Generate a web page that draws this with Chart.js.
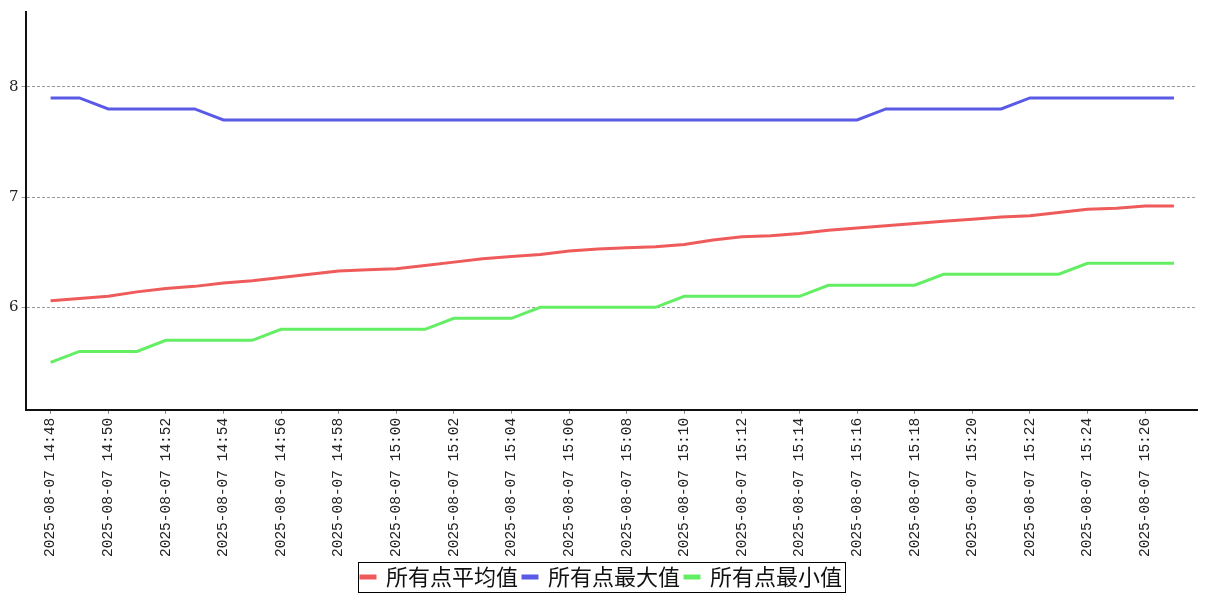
<!DOCTYPE html>
<html>
<head>
<meta charset="utf-8">
<script src="https://cdn.jsdelivr.net/npm/chart.js@4.4.0/dist/chart.umd.min.js"></script>
<style>
  html, body { margin: 0; padding: 0; background: #fff; }
  #chart { display: block; }
</style>
</head>
<body>
<canvas id="chart" width="1207" height="600"></canvas>
<script>
// one point per minute, 14:48 .. 15:27
const times = [
  '14:48','14:49','14:50','14:51','14:52','14:53','14:54','14:55','14:56','14:57',
  '14:58','14:59','15:00','15:01','15:02','15:03','15:04','15:05','15:06','15:07',
  '15:08','15:09','15:10','15:11','15:12','15:13','15:14','15:15','15:16','15:17',
  '15:18','15:19','15:20','15:21','15:22','15:23','15:24','15:25','15:26','15:27'
];
const datePrefix = '2025-08-07 ';

const avgValues = [
  6.06, 6.08, 6.10, 6.14, 6.17, 6.19, 6.22, 6.24, 6.27, 6.30,
  6.33, 6.34, 6.35, 6.38, 6.41, 6.44, 6.46, 6.48, 6.51, 6.53,
  6.54, 6.55, 6.57, 6.61, 6.64, 6.65, 6.67, 6.70, 6.72, 6.74,
  6.76, 6.78, 6.80, 6.82, 6.83, 6.86, 6.89, 6.90, 6.92, 6.92
];
const maxValues = [
  7.9, 7.9, 7.8, 7.8, 7.8, 7.8, 7.7, 7.7, 7.7, 7.7,
  7.7, 7.7, 7.7, 7.7, 7.7, 7.7, 7.7, 7.7, 7.7, 7.7,
  7.7, 7.7, 7.7, 7.7, 7.7, 7.7, 7.7, 7.7, 7.7, 7.8,
  7.8, 7.8, 7.8, 7.8, 7.9, 7.9, 7.9, 7.9, 7.9, 7.9
];
const minValues = [
  5.5, 5.6, 5.6, 5.6, 5.7, 5.7, 5.7, 5.7, 5.8, 5.8,
  5.8, 5.8, 5.8, 5.8, 5.9, 5.9, 5.9, 6.0, 6.0, 6.0,
  6.0, 6.0, 6.1, 6.1, 6.1, 6.1, 6.1, 6.2, 6.2, 6.2,
  6.2, 6.3, 6.3, 6.3, 6.3, 6.3, 6.4, 6.4, 6.4, 6.4
];
const yTicks = [6, 7, 8];
const seriesNames = ['所有点平均值', '所有点最大值', '所有点最小值'];
const colors = ['#ef5b5b', '#5a5ae6', '#64ee64'];

const toPoints = arr => arr.map((v, i) => ({ x: i, y: v }));
const xTickIdx = times.map((t, i) => i).filter(i => i % 2 === 0);

const legendBox = {
  id: 'legendBox',
  afterDraw(chart) {
    const boxes = chart.legend && chart.legend.legendHitBoxes;
    if (!boxes || !boxes.length) return;
    const left = Math.min(...boxes.map(b => b.left)) - 3;
    const right = Math.max(...boxes.map(b => b.left + b.width)) + 3;
    const top = Math.min(...boxes.map(b => b.top)) - 4;
    const bottom = Math.max(...boxes.map(b => b.top + b.height)) + 4;
    const ctx = chart.ctx;
    ctx.save();
    ctx.strokeStyle = '#000';
    ctx.lineWidth = 1;
    ctx.strokeRect(Math.round(left) + 0.5, Math.round(top) + 0.5, Math.round(right - left), Math.round(bottom - top));
    ctx.restore();
  }
};

new Chart(document.getElementById('chart'), {
  type: 'line',
  data: {
    datasets: [avgValues, maxValues, minValues].map((vals, k) => ({
      label: seriesNames[k],
      data: toPoints(vals),
      borderColor: colors[k],
      backgroundColor: colors[k],
      borderWidth: 3,
      pointRadius: 0,
      tension: 0
    }))
  },
  options: {
    responsive: false,
    animation: false,
    layout: { padding: { top: 10, right: 10, left: 6, bottom: 2 } },
    plugins: {
      tooltip: { enabled: false },
      legend: {
        position: 'bottom',
        labels: {
          boxWidth: 14,
          boxHeight: 2,
          padding: 5,
          color: '#111',
          font: { family: '"Noto Sans CJK SC", sans-serif', size: 22 }
        }
      }
    },
    scales: {
      x: {
        type: 'linear',
        min: -0.87,
        max: 39.8,
        afterBuildTicks: s => { s.ticks = xTickIdx.map(v => ({ value: v })); },
        ticks: {
          minRotation: 90,
          maxRotation: 90,
          autoSkip: false,
          padding: 4,
          color: '#222',
          font: { family: '"Liberation Mono", monospace', size: 14.5 },
          callback: v => datePrefix + times[v]
        },
        grid: { drawOnChartArea: false, drawTicks: true, tickLength: 4, color: '#888' },
        border: { display: true, color: '#111', width: 2 }
      },
      y: {
        min: 5.07,
        max: 8.68,
        afterBuildTicks: s => { s.ticks = yTicks.map(v => ({ value: v })); },
        ticks: {
          padding: 3,
          color: '#222',
          font: { family: '"DejaVu Serif", serif', size: 15 }
        },
        grid: { color: '#999', lineWidth: 1, tickLength: 4 },
        border: { display: true, color: '#111', width: 2, dash: [3, 2] }
      }
    }
  },
  plugins: [legendBox]
});
</script>
</body>
</html>
